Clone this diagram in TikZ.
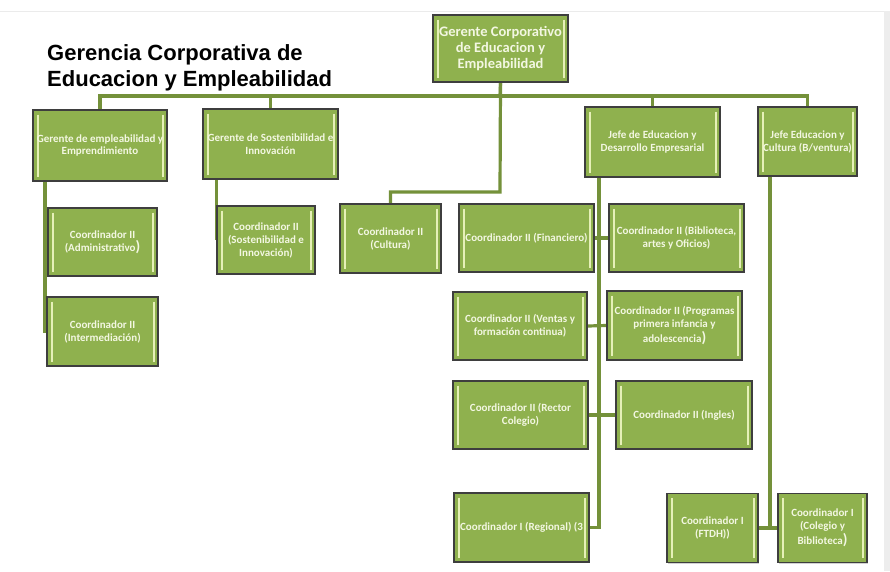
\documentclass[tikz,border=0pt]{standalone}
\usepackage{fontspec}
\newfontfamily\boxfont{Carlito}
\newfontfamily\titlefont{Liberation Sans}
\usetikzlibrary{shadows}
\pgfdeclarelayer{bg}
\pgfsetlayers{bg,main}
\definecolor{boxfill}{HTML}{8FB14E}
\definecolor{boxedge}{HTML}{3E3E3E}
\definecolor{boxbar}{HTML}{E6F0B8}
\definecolor{boxtext}{HTML}{F3F7E2}
\definecolor{linkcol}{HTML}{74913A}
\definecolor{stripcol}{HTML}{EDEDED}
\tikzset{
  orgbox/.style={draw=boxedge, line width=1.1pt, fill=boxfill, inner sep=2pt,
    align=center, text=boxtext,
    font=\boxfont\bfseries\fontsize{11}{13}\selectfont,
    drop shadow={shadow xshift=1pt, shadow yshift=-1.2pt, opacity=0.35},
    path picture={
      \draw[boxbar, line width=2pt]
        ([xshift=4.5pt,yshift=-4.5pt]path picture bounding box.north west) --
        ([xshift=4.5pt,yshift=4.5pt]path picture bounding box.south west);
      \draw[boxbar, line width=2pt]
        ([xshift=-4.5pt,yshift=-4.5pt]path picture bounding box.north east) --
        ([xshift=-4.5pt,yshift=4.5pt]path picture bounding box.south east);
    }},
  link/.style={draw=linkcol, line width=3.2pt},
  titletext/.style={anchor=base west, inner sep=0pt,
    font=\titlefont\bfseries\fontsize{22}{26}\selectfont, text=black}
}
\newcommand{\bigpar}{{\fontsize{15}{12}\selectfont)}}
\begin{document}
\begin{tikzpicture}[x=1pt,y=-1pt]
\useasboundingbox (0,0) rectangle (890,571);
\begin{pgfonlayer}{bg}
\fill[white] (0,0) rectangle (890,571);
\fill[stripcol] (884,11) rectangle (890,571);
\draw[black!8, line width=0.8pt] (0,11) -- (884,11);
\end{pgfonlayer}

% title
\node[titletext] (title1) at (47,60) {Gerencia Corporativa de};
\node[titletext] (title2) at (47,86) {Educacion y Empleabilidad};

% coordinates for connector bends
\coordinate (bus) at (500,96);
\coordinate (cbend) at (500,192);
\coordinate (lft) at (45,181);
\coordinate (jdv) at (599,177);
\coordinate (jcv) at (770,176);

% boxes
\node[orgbox, minimum width=135pt, minimum height=67pt,
  font=\boxfont\bfseries\fontsize{14.5}{16}\selectfont] (top) at (500.5,48.5)
  {Gerente Corporativo\\de Educacion y\\Empleabilidad};
\node[orgbox, minimum width=134pt, minimum height=71pt] (ge) at (100,145.5)
  {Gerente de empleabilidad y\\Emprendimiento};
\node[orgbox, minimum width=135pt, minimum height=70pt] (gs) at (270.5,144)
  {Gerente de Sostenibilidad e\\Innovación};
\node[orgbox, minimum width=135pt, minimum height=70pt] (jd) at (652.5,142)
  {Jefe de Educacion y\\Desarrollo Empresarial};
\node[orgbox, minimum width=99pt, minimum height=69pt] (jc) at (807.5,141.5)
  {Jefe Educacion y\\Cultura (B/ventura)};

\node[orgbox, minimum width=109pt, minimum height=68pt] (adm) at (102.5,242)
  {Coordinador II\\(Administrativo\bigpar};
\node[orgbox, minimum width=111pt, minimum height=69pt] (int) at (102.5,331.5)
  {Coordinador II\\(Intermediación)};
\node[orgbox, minimum width=98pt, minimum height=68pt] (sos) at (266,240)
  {Coordinador II\\(Sostenibilidad e\\Innovación)};
\node[orgbox, minimum width=101pt, minimum height=69pt] (cul) at (390.5,238.5)
  {Coordinador II\\(Cultura)};

\node[orgbox, minimum width=135pt, minimum height=68pt] (fin) at (526.5,238)
  {Coordinador II (Financiero)};
\node[orgbox, minimum width=135pt, minimum height=68pt] (bib) at (676.5,238)
  {Coordinador II (Biblioteca,\\artes y Oficios)};
\node[orgbox, minimum width=134pt, minimum height=68pt] (ven) at (520,326)
  {Coordinador II (Ventas y\\formación continua)};
\node[orgbox, minimum width=135pt, minimum height=69pt] (pro) at (674.5,325.5)
  {Coordinador II (Programas\\primera infancia y\\[2pt]adolescencia\bigpar};
\node[orgbox, minimum width=135pt, minimum height=68pt] (rec) at (520.5,415)
  {Coordinador II (Rector\\Colegio)};
\node[orgbox, minimum width=136pt, minimum height=68pt] (ing) at (684,415)
  {Coordinador II (Ingles)};
\node[orgbox, minimum width=135pt, minimum height=69pt] (reg) at (521.5,527.5)
  {Coordinador I (Regional) (3};
\node[orgbox, minimum width=91pt, minimum height=69pt] (ftdh) at (712.5,528)
  {Coordinador I\\(FTDH))};
\node[orgbox, minimum width=89pt, minimum height=69pt] (col) at (822.5,528)
  {Coordinador I\\(Colegio y\\[2pt]Biblioteca\bigpar};

% connectors, behind the boxes
\begin{pgfonlayer}{bg}
\draw[link] (top.south) -- (bus);
\draw[link] (ge.north) |- (bus) -| (jc.north);
\draw[link] (gs.north) -- (gs.north |- bus);
\draw[link] (jd.north) -- (jd.north |- bus);
\draw[link] (top.south) -- (cbend) -| (cul.north);
\draw[link] (lft) |- (int.west);
\draw[link] (adm.west) -- (adm.west -| lft);
\draw[link] (gs.south -| sos.west) -- (sos.west);
\draw[link] (jdv) |- (reg.east);
\draw[link] (fin.east) -- (bib.west);
\draw[link] (ven.east) -- (pro.west);
\draw[link] (rec.east) -- (ing.west);
\draw[link] (jcv) -- (jcv |- ftdh.east);
\draw[link] (ftdh.east) -- (col.west);
\end{pgfonlayer}
\end{tikzpicture}
\end{document}
